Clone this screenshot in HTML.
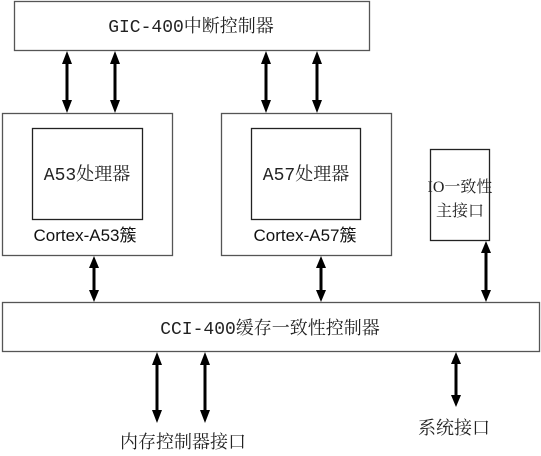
<!DOCTYPE html>
<html><head><meta charset="utf-8"><style>
body{margin:0;background:#fff;}
svg{display:block}
.s{font-family:"Liberation Mono","Noto Serif CJK SC",monospace;font-size:18px;fill:#222}
.a{font-family:"Liberation Sans","Noto Sans CJK SC",sans-serif;font-size:17px;fill:#111}
.io{font-family:"Liberation Serif","Noto Serif CJK SC",serif;font-size:16px;fill:#222}
</style></head><body>
<svg width="541" height="456" viewBox="0 0 541 456" xmlns="http://www.w3.org/2000/svg">
<g fill="#fff" stroke="#555" stroke-width="1.3">
<rect x="14.5" y="1.5" width="355" height="49"/>
<rect x="2.5" y="113.5" width="170" height="142"/>
<rect x="32.5" y="128.5" width="110" height="91" stroke="#222"/>
<rect x="221.5" y="113.5" width="170" height="142"/>
<rect x="251.5" y="128.5" width="109" height="91" stroke="#222"/>
<rect x="430.5" y="149.5" width="59" height="91" stroke="#222"/>
<rect x="2.5" y="302.5" width="537" height="49"/>
</g>
<g fill="#000" stroke="none">
<path d="M67,51 l-5,13 h3.5 v36 h-3.5 l5,13 l5,-13 h-3.5 v-36 h3.5 z"/>
<path d="M115,51 l-5,13 h3.5 v36 h-3.5 l5,13 l5,-13 h-3.5 v-36 h3.5 z"/>
<path d="M266,51 l-5,13 h3.5 v36 h-3.5 l5,13 l5,-13 h-3.5 v-36 h3.5 z"/>
<path d="M317,51 l-5,13 h3.5 v36 h-3.5 l5,13 l5,-13 h-3.5 v-36 h3.5 z"/>
<path d="M94,256 l-5,12 h3.5 v22 h-3.5 l5,12 l5,-12 h-3.5 v-22 h3.5 z"/>
<path d="M321,256 l-5,12 h3.5 v22 h-3.5 l5,12 l5,-12 h-3.5 v-22 h3.5 z"/>
<path d="M486,241 l-5,12 h3.5 v37 h-3.5 l5,12 l5,-12 h-3.5 v-37 h3.5 z"/>
<path d="M157,352 l-5,13 h3.5 v45 h-3.5 l5,13 l5,-13 h-3.5 v-45 h3.5 z"/>
<path d="M205,352 l-5,13 h3.5 v45 h-3.5 l5,13 l5,-13 h-3.5 v-45 h3.5 z"/>
<path d="M456,352 l-5,12 h3.5 v31 h-3.5 l5,12 l5,-12 h-3.5 v-31 h3.5 z"/>
</g>
<text class="s" x="191" y="32" text-anchor="middle">GIC-400中断控制器</text>
<text class="s" x="87" y="180" text-anchor="middle">A53处理器</text>
<text class="s" x="306" y="180" text-anchor="middle">A57处理器</text>
<text class="a" x="85" y="241" text-anchor="middle">Cortex-A53簇</text>
<text class="a" x="305" y="241" text-anchor="middle">Cortex-A57簇</text>
<text class="io" x="460" y="192" text-anchor="middle">IO一致性</text>
<text class="io" x="460" y="216" text-anchor="middle">主接口</text>
<text class="s" x="270" y="334" text-anchor="middle">CCI-400缓存一致性控制器</text>
<text class="s" x="183" y="448" text-anchor="middle">内存控制器接口</text>
<text class="s" x="454" y="434" text-anchor="middle">系统接口</text>
</svg>
</body></html>
